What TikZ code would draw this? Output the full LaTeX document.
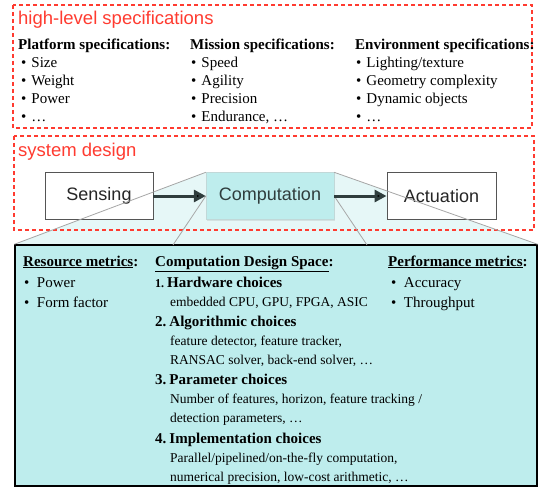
\documentclass[tikz,border=0pt]{standalone}
\usepackage{fontspec}
\setmainfont{Liberation Serif}
\setsansfont{Liberation Sans}
\usetikzlibrary{arrows.meta,shadows}

\definecolor{specred}{HTML}{FF3B30}
\definecolor{compcyan}{HTML}{BEEDED}
\definecolor{zoomcyan}{HTML}{E6F7F7}
\definecolor{flowgray}{HTML}{2F3D3D}
\definecolor{edgegray}{HTML}{555555}

\pgfdeclarelayer{back}
\pgfsetlayers{back,main}

\begin{document}
\begin{tikzpicture}[x=1pt,y=-1pt,
    specbox/.style={draw=specred,line width=2pt,dash pattern=on 4pt off 3pt},
    tag/.style={font=\sffamily\fontsize{18.5}{20}\selectfont,text=specred,anchor=base west,inner sep=0pt},
    head/.style={font=\bfseries\fontsize{15}{18}\selectfont,anchor=base west,inner sep=0pt},
    item/.style={font=\fontsize{15}{18}\selectfont,anchor=base west,inner sep=0pt},
    detail/.style={font=\fontsize{13.5}{16}\selectfont,anchor=base west,inner sep=0pt},
    stage/.style={draw=edgegray,fill=white,line width=0.9pt,minimum width=108pt,minimum height=47pt,
        inner sep=0pt,font=\sffamily\fontsize{18}{20}\selectfont,text=black!85},
    flow/.style={draw=flowgray,line width=3pt,-{Triangle[length=12pt,width=12pt]}},
    zoomline/.style={draw=black!35,line width=0.8pt}]
    \useasboundingbox (0,0) rectangle (539,487);

    % high-level specifications
    \draw [specbox] (13,5) rectangle (532,128);
    \node [tag] (hls) at (18,25) {high-level specifications};

    \node [head] (plat) at (18,50) {Platform specifications:};
    \node [item] (plat1) at (21,68) {•\hspace{5pt}Size};
    \node [item] (plat2) at (21,86) {•\hspace{5pt}Weight};
    \node [item] (plat3) at (21,104) {•\hspace{5pt}Power};
    \node [item] (plat4) at (21,122) {•\hspace{5pt}…};

    \node [head] (miss) at (190,50) {Mission specifications:};
    \node [item] (miss1) at (191,68) {•\hspace{5pt}Speed};
    \node [item] (miss2) at (191,86) {•\hspace{5pt}Agility};
    \node [item] (miss3) at (191,104) {•\hspace{5pt}Precision};
    \node [item] (miss4) at (191,122) {•\hspace{5pt}Endurance, …};

    \node [head] (env) at (355,50) {Environment specifications:};
    \node [item] (env1) at (356,68) {•\hspace{5pt}Lighting/texture};
    \node [item] (env2) at (356,86) {•\hspace{5pt}Geometry complexity};
    \node [item] (env3) at (356,104) {•\hspace{5pt}Dynamic objects};
    \node [item] (env4) at (356,122) {•\hspace{5pt}…};

    % system design
    \draw [specbox] (14,136) rectangle (534,230);
    \node [tag] (sysd) at (18,157) {system design};

    \node [stage] (sens) at (99,196) {Sensing};
    \node [stage,minimum width=109pt] (act) at (441.5,196) {Actuation};
    \node [stage,draw=compcyan!80!black!60,fill=compcyan,line width=0.4pt,minimum width=128pt,
        text=flowgray,drop shadow={opacity=0.18,shadow xshift=0.6pt,shadow yshift=-1.2pt}] (comp) at (270,196) {Computation};

    % design space
    \node [draw=black,line width=1.4pt,fill=compcyan,minimum width=522pt,minimum height=241pt,inner sep=0pt] (space) at (276,365.5) {};
    \coordinate (zl) at (173,245);
    \coordinate (zr) at (367,245);

    \begin{pgfonlayer}{back}
        \fill [zoomcyan] (comp.north west) -- (comp.north east) -- (space.north east) -- (space.north west) -- cycle;
    \end{pgfonlayer}

    \path [zoomline] (comp.north west) edge (space.north west);
    \path [zoomline] (comp.north east) edge (space.north east);
    \path [zoomline] (comp.west) edge (zl);
    \path [zoomline] (comp.east) edge (zr);

    \path [flow] (sens) edge (comp);
    \path [flow] (comp) edge (act);

    \node [head] (res) at (23,266) {\underline{Resource metrics}:};
    \node [item] (res1) at (24,287) {•\enspace Power};
    \node [item] (res2) at (24,307) {•\enspace Form factor};

    \node [head] (cds) at (155,266) {\underline{Computation Design Space}:};
    \node [head] (hw) at (155,287) {{\fontsize{12}{14}\selectfont 1.}\hspace{3pt}Hardware choices};
    \node [detail] (hw1) at (170,306.5) {embedded CPU, GPU, FPGA, ASIC};
    \node [head] (alg) at (155,326) {2.\hspace{3pt}Algorithmic choices};
    \node [detail] (alg1) at (170,345.5) {feature detector, feature tracker,};
    \node [detail] (alg2) at (170,364.5) {RANSAC solver, back-end solver, …};
    \node [head] (par) at (155,384) {3.\hspace{3pt}Parameter choices};
    \node [detail] (par1) at (170,403.5) {Number of features, horizon, feature tracking /};
    \node [detail] (par2) at (170,422.5) {detection parameters, …};
    \node [head] (impl) at (155,443) {4.\hspace{3pt}Implementation choices};
    \node [detail] (impl1) at (170,462.5) {Parallel/pipelined/on-the-fly computation,};
    \node [detail] (impl2) at (170,481.5) {numerical precision, low-cost arithmetic, …};

    \node [head] (perf) at (388,266) {\underline{Performance metrics}:};
    \node [item] (perf1) at (391,287) {•\enspace Accuracy};
    \node [item] (perf2) at (391,307) {•\enspace Throughput};
\end{tikzpicture}
\end{document}
